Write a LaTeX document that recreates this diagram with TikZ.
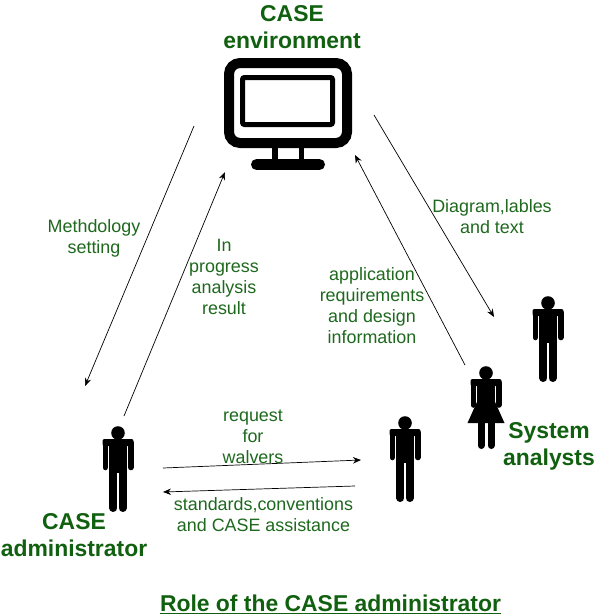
\documentclass[tikz,border=0pt]{standalone}
\usepackage{fontspec}
\setmainfont{Liberation Sans}
\usetikzlibrary{arrows.meta}
\definecolor{lgreen}{RGB}{30,105,30}
\definecolor{hgreen}{RGB}{16,96,16}
\tikzset{
  lbl/.style={text=lgreen,align=center,inner sep=0pt,font=\fontsize{17.9}{21}\selectfont},
  hdr/.style={text=hgreen,align=center,inner sep=0pt,font=\fontsize{22.9}{27}\selectfont\bfseries},
  flow/.style={black,line width=0.7pt,-{Stealth[length=8pt,width=6.5pt]}},
  limb/.style={black,line width=5.6pt,line cap=round},
  leg/.style={black,line width=8pt,line cap=round},
  man/.pic={
    \fill[black] (0,0) circle (6.8);
    \fill[black,rounded corners=2pt] (-15.5,6) rectangle (15.5,13);
    \fill[black] (-8.6,8) rectangle (8.6,40);
    \draw[limb] (-12.7,10) -- (-12.7,34.5);
    \draw[limb] (12.7,10) -- (12.7,34.5);
    \draw[leg] (-4.6,36) -- (-4.6,75);
    \draw[leg] (4.6,36) -- (4.6,75);
  },
  woman/.pic={
    \fill[black] (0,0) circle (6.8);
    \fill[black,rounded corners=2pt] (-15.5,6) rectangle (15.5,13);
    \fill[black] (-8.6,8) rectangle (8.6,30);
    \draw[limb] (-12.7,10) -- (-12.7,32);
    \draw[limb] (12.7,10) -- (12.7,32);
    \fill[black] (-8.6,28) -- (8.6,28) -- (18.5,50) -- (-18.5,50) -- cycle;
    \draw[black,line width=7pt,line cap=round] (-5,48) -- (-5,72.5);
    \draw[black,line width=7pt,line cap=round] (5,48) -- (5,72.5);
  }
}
\begin{document}
\begin{tikzpicture}[x=1pt,y=-1pt]
\useasboundingbox[fill=white] (0,0) rectangle (595,616);
% monitor
\draw[black,line width=10pt,rounded corners=11pt] (229,63) rectangle (347,143);
\draw[black,line width=5pt,rounded corners=2pt] (242.5,77.5) rectangle (332.5,124.5);
\fill[black] (272,148) rectangle (277.5,162);
\fill[black] (298.5,148) rectangle (303.5,162);
\draw[black,line width=11pt,line cap=round] (256.5,164.5) -- (319.5,164.5);
% people
\pic at (118,433) {man};
\pic at (405,423) {man};
\pic at (548,303) {man};
\pic at (486,373) {woman};
% connector ends
\coordinate (a1) at (194,126); \coordinate (a2) at (85,386);
\coordinate (b1) at (124,416); \coordinate (b2) at (225,172);
\coordinate (c1) at (374,115); \coordinate (c2) at (494,317);
\coordinate (d1) at (465,365); \coordinate (d2) at (355,155);
\coordinate (e1) at (163,468); \coordinate (e2) at (361,460);
\coordinate (f1) at (355,486); \coordinate (f2) at (163,492);
\draw[flow] (a1) -- (a2);
\draw[flow] (b1) -- (b2);
\draw[flow] (c1) -- (c2);
\draw[flow] (d1) -- (d2);
\draw[flow] (e1) -- (e2);
\draw[flow] (f1) -- (f2);
% labels
\node[hdr] (env) at (292,27.5) {CASE\\environment};
\node[hdr] (admin) at (74,535) {CASE\\administrator};
\node[hdr] (sys) at (549,446.5) {System\\analysts};
\node[hdr,anchor=base,align=none] (title) at (330.5,611) {Role of the CASE administrator};
\draw[hgreen,line width=1.4pt] ([yshift=-2.3pt]title.base west) -- ([yshift=-2.3pt]title.base east);
\node[lbl] (meth) at (94,238) {Methdology\\setting};
\node[lbl] (prog) at (224,276.5) {In\\progress\\analysis\\result};
\node[lbl] (diag) at (492,216.5) {Diagram,lables\\and text};
\node[lbl] (appl) at (372,306) {application\\requirements\\and design\\information};
\node[lbl] (req) at (253,437) {request\\for\\walvers};
\node[lbl] (std) at (263.5,515) {standards,conventions\\and CASE assistance};
\end{tikzpicture}
\end{document}
